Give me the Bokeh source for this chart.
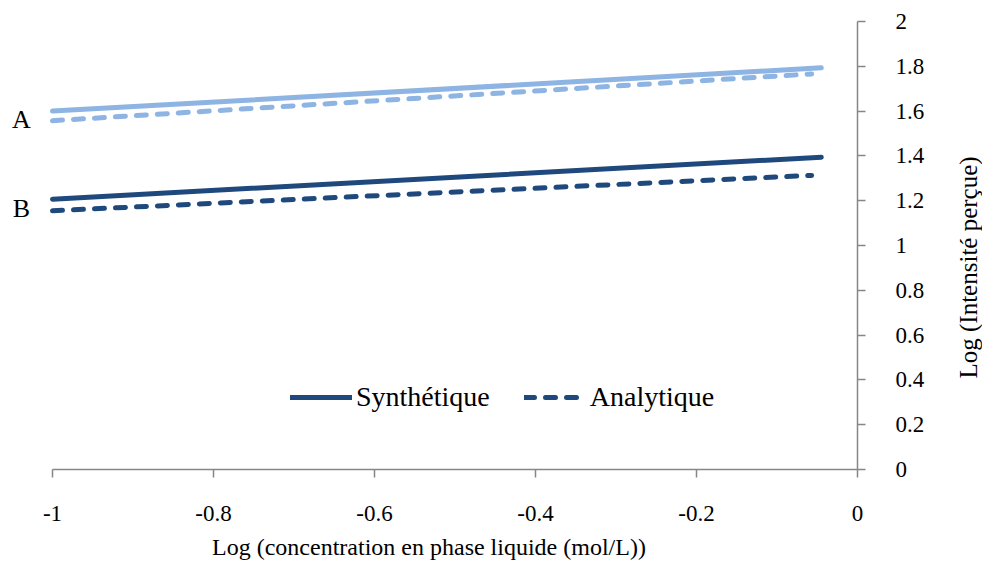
import math
from bokeh.plotting import figure
from bokeh.layouts import row
from bokeh.models import Label, Legend, LegendItem, FixedTicker, Range1d
from bokeh.embed import file_html
from bokeh.resources import INLINE

# ---- data ----
x_synth = [-1.0, -0.045]
x_analyt = [-1.0, -0.057]
a_synth = [1.600, 1.793]
a_analyt = [1.557, 1.766]
b_synth = [1.207, 1.394]
b_analyt = [1.155, 1.313]

series_names = ["Synthétique", "Analytique"]
group_labels = ["A", "B"]

x_ticks = [-1, -0.8, -0.6, -0.4, -0.2, 0]
x_tick_labels = ["-1", "-0.8", "-0.6", "-0.4", "-0.2", "0"]
y_ticks = [0, 0.2, 0.4, 0.6, 0.8, 1, 1.2, 1.4, 1.6, 1.8, 2]
y_tick_labels = ["0", "0.2", "0.4", "0.6", "0.8", "1", "1.2", "1.4", "1.6", "1.8", "2"]

x_title = "Log (concentration en phase liquide (mol/L))"
y_title = "Log (Intensité perçue)"

FONT = "Liberation Serif"
LIGHT = "#8DB4E2"
DARK = "#1F497D"
AXIS = "#868686"

W, H = 940, 562
SIDE_W = 42
FRAME_W, FRAME_H = 857, 448
TOP = 21
p = figure(width=W, height=H, output_backend="svg", toolbar_location=None,
           x_range=Range1d(-1.0646, 0), y_range=Range1d(0, 2),
           y_axis_location="right",
           min_border_left=0, min_border_right=W - FRAME_W, min_border_top=TOP,
           min_border_bottom=H - TOP - FRAME_H)
p.outline_line_color = None
p.xgrid.visible = False
p.ygrid.visible = False
p.background_fill_color = "white"
p.border_fill_color = "white"

lw = 5
dash = "10 11"
p.line(x_synth, a_synth, line_color=LIGHT, line_width=lw, line_cap="round")
p.line(x_analyt, a_analyt, line_color=LIGHT, line_width=lw, line_cap="round",
       line_dash=dash)
r_bs = p.line(x_synth, b_synth, line_color=DARK, line_width=lw, line_cap="round")
r_ba = p.line(x_analyt, b_analyt, line_color=DARK, line_width=lw, line_cap="round",
              line_dash=dash)

# axes
for ax, ticks, labels in ((p.xaxis[0], x_ticks, x_tick_labels),
                          (p.yaxis[0], y_ticks, y_tick_labels)):
    ax.ticker = FixedTicker(ticks=ticks, minor_ticks=[])
    ax.bounds = (ticks[0], ticks[-1])
    ax.major_label_overrides = {t: l for t, l in zip(ticks, labels)}
    ax.axis_line_color = AXIS
    ax.axis_line_width = 1.5
    ax.major_tick_line_color = AXIS
    ax.major_tick_line_width = 1.5
    ax.major_tick_in = 0
    ax.major_tick_out = 8
    ax.minor_tick_line_color = None
    ax.major_label_text_font = FONT
    ax.major_label_text_font_size = "23px"
    ax.major_label_text_color = "black"
    ax.axis_label_text_font = FONT
    ax.axis_label_text_font_size = "24px"
    ax.axis_label_text_font_style = "normal"
    ax.axis_label_text_color = "black"

xa = p.xaxis[0]
xa.major_label_standoff = 28
xa.axis_label = x_title
xa.axis_label_standoff = 10

ya = p.yaxis[0]
ya.major_label_standoff = 30

# group labels A / B next to the line starts
for name, ys1, ys2 in zip(group_labels, (a_synth, b_synth), (a_analyt, b_analyt)):
    p.add_layout(Label(x=x_synth[0], y=(ys1[0] + ys2[0]) / 2, x_offset=-31,
                       y_offset=-4,
                       text=name, text_font=FONT, text_font_size="26px",
                       text_color="black", text_align="center",
                       text_baseline="middle"))

legend = Legend(items=[LegendItem(label=series_names[0], renderers=[r_bs]),
                       LegendItem(label=series_names[1], renderers=[r_ba])],
                location=(290, 56), orientation="horizontal",
                border_line_alpha=0, background_fill_alpha=0,
                glyph_width=62, glyph_height=20, label_standoff=4, spacing=34,
                padding=0, margin=0, label_text_font=FONT,
                label_text_font_size="28px", label_text_color="black")
p.add_layout(legend)

# vertical axis title (reads bottom-to-top) in a narrow companion panel
side = figure(width=SIDE_W, height=H, output_backend="svg", toolbar_location=None,
              x_range=Range1d(0, 1), y_range=Range1d(0, 1),
              x_axis_location=None, y_axis_location=None,
              min_border_left=0, min_border_right=0, min_border_top=0,
              min_border_bottom=0)
side.outline_line_color = None
side.xgrid.visible = False
side.ygrid.visible = False
side.border_fill_color = "white"
side.add_layout(Label(x=28, y=91, x_units="screen", y_units="screen",
                      text=y_title, angle=math.pi / 2, text_font=FONT,
                      text_font_size="25px", text_color="black",
                      text_align="left", text_baseline="middle"))

layout = row(p, side, spacing=0)
open("out.html", "w").write(file_html(layout, INLINE))
